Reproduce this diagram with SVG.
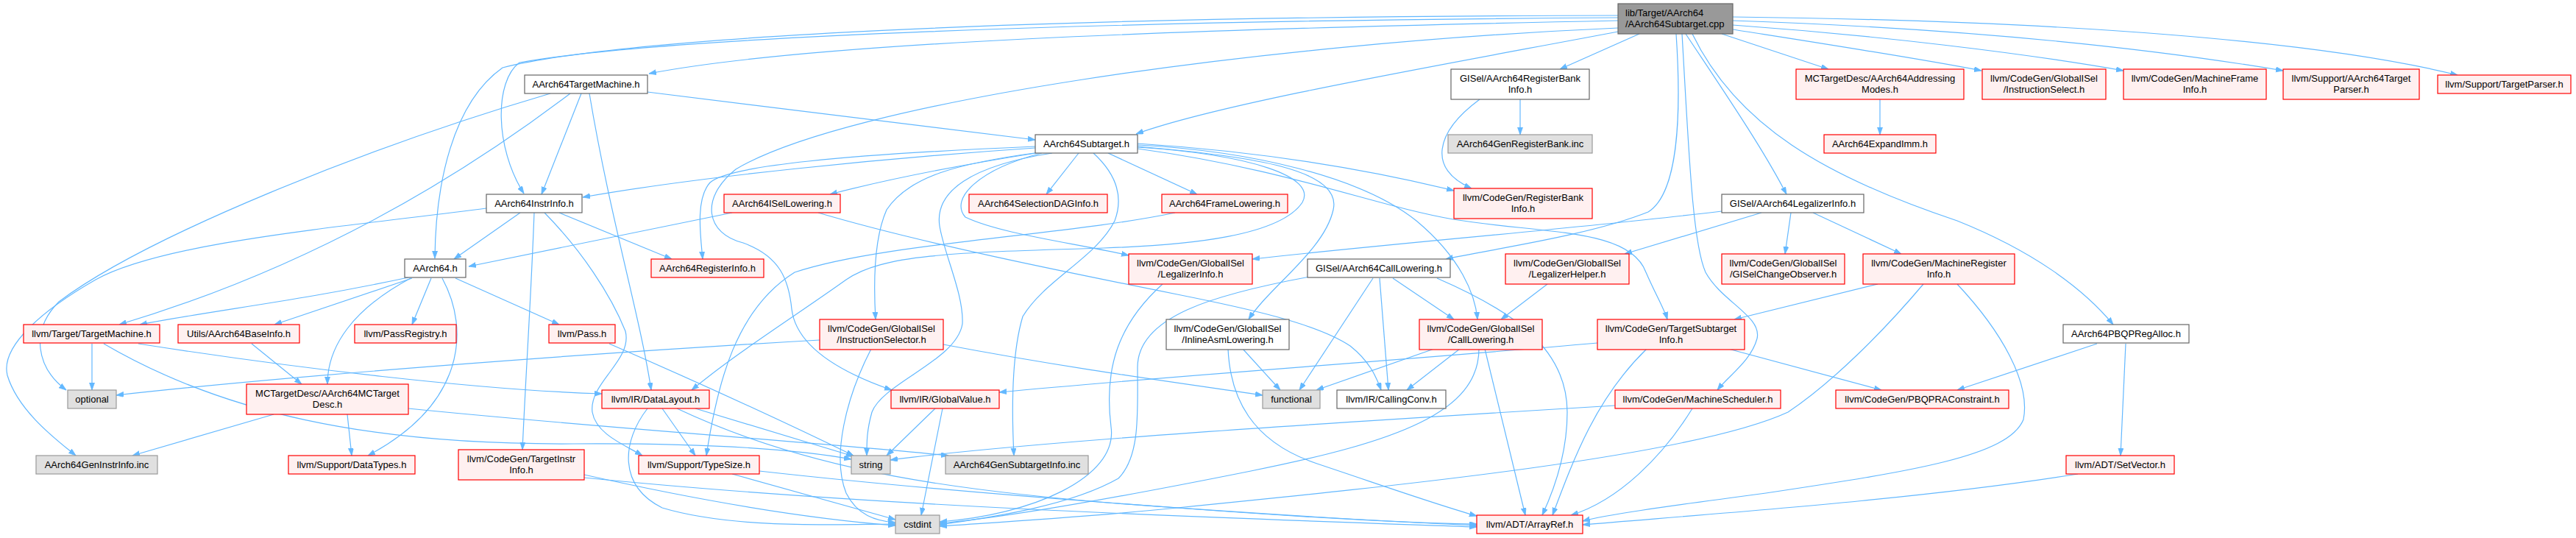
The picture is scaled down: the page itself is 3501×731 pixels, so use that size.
<svg xmlns="http://www.w3.org/2000/svg" width="3501" height="731" viewBox="0 0 3501 731">
<style>
.w{fill:#ffffff;stroke:#666666;stroke-width:1.2}
.r{fill:#FFF0F0;stroke:#FF0000;stroke-width:1.2}
.g{fill:#E0E0E0;stroke:#999999;stroke-width:1.2}
.t{fill:#999999;stroke:#666666;stroke-width:1.2}
text{font-family:"Liberation Sans",Arial,sans-serif;font-size:13px;fill:#000000;text-anchor:middle}
text.l{text-anchor:start}
.e{fill:none;stroke:#63B8FF;stroke-width:1.2;marker-end:url(#ah)}
</style>
<defs>
<marker id="ah" markerUnits="userSpaceOnUse" markerWidth="11" markerHeight="8" refX="10" refY="3.5" orient="auto">
<path d="M0,0 L10,3.5 L0,7 z" fill="#63B8FF" stroke="#63B8FF" stroke-width="0.8"/>
</marker>
</defs>
<rect width="3501" height="731" fill="#ffffff"/>
<g id="edges">
<path class="e" d="M2199,28 C1600,40 1100,58 882,100"/>
<path class="e" d="M2199,43 C1950,90 1660,140 1544,182"/>
<path class="e" d="M2199,24 C1500,28 900,50 706,85 C672,110 672,200 712,263"/>
<path class="e" d="M2199,21 C1400,22 850,50 683,92 C615,140 592,250 591,351"/>
<path class="e" d="M2228,46 L2120,94"/>
<path class="e" d="M2340,46 L2485,94"/>
<path class="e" d="M2355,40 C2450,55 2600,78 2693,96"/>
<path class="e" d="M2355,34 C2550,48 2750,72 2886,96"/>
<path class="e" d="M2355,28 C2650,38 2900,62 3103,96"/>
<path class="e" d="M2355,23 C2800,28 3150,55 3340,102"/>
<path class="e" d="M2291,46 C2340,120 2395,200 2428,264"/>
<path class="e" d="M2278,46 C2285,150 2282,262 2240,288 C2160,320 2030,338 1965,352"/>
<path class="e" d="M2300,46 C2360,170 2480,240 2660,300 C2760,340 2830,390 2872,441"/>
<path class="e" d="M2286,46 C2295,200 2300,330 2318,370 C2340,410 2395,430 2388,460 C2380,490 2350,510 2334,530"/>
<path class="e" d="M2199,38 C1700,60 1150,140 1000,230 C950,270 960,318 1010,330 C1060,348 1072,380 1076,420 C1082,470 1140,505 1212,530"/>
<path class="e" d="M1506,208 L1627,264"/>
<path class="e" d="M1414,207 C1300,225 1200,245 1128,264"/>
<path class="e" d="M1466,208 L1422,264"/>
<path class="e" d="M1407,201 C1200,215 950,240 792,268"/>
<path class="e" d="M1407,199 C1150,210 990,225 965,248 C945,270 952,320 955,352"/>
<path class="e" d="M1546,197 C1700,205 1850,240 1925,300 C1985,350 2005,400 2008,434"/>
<path class="e" d="M1546,199 C1700,212 1825,230 1812,285 C1800,340 1725,390 1697,434"/>
<path class="e" d="M1413,207 C1300,222 1235,240 1205,285 C1185,330 1188,400 1190,434"/>
<path class="e" d="M1416,208 C1330,230 1290,270 1312,295 C1360,318 1460,330 1534,347"/>
<path class="e" d="M1546,195 C1700,205 1850,228 1976,259"/>
<path class="e" d="M1546,202 C1750,230 1870,280 1975,298 C2100,318 2215,310 2237,370 C2250,400 2262,420 2266,434"/>
<path class="e" d="M1546,200 C1700,210 1790,240 1770,275 C1740,320 1620,333 1500,337 C1300,343 1200,345 1150,380 C1080,430 1000,480 940,530"/>
<path class="e" d="M1430,208 C1320,225 1270,260 1277,307 C1283,345 1310,400 1308,440 C1300,490 1200,520 1185,560 C1178,585 1178,600 1178,619"/>
<path class="e" d="M1486,208 C1510,230 1530,260 1515,300 C1490,350 1420,380 1390,430 C1375,480 1375,560 1378,619"/>
<path class="e" d="M995,289 L637,362"/>
<path class="e" d="M1112,289 C1250,330 1450,370 1600,400 C1700,420 1790,440 1835,470 C1860,490 1870,510 1877,530"/>
<path class="e" d="M1597,289 C1450,320 1200,330 1080,370 C1000,420 975,520 960,619"/>
<path class="e" d="M707,289 L617,352"/>
<path class="e" d="M760,289 L913,352"/>
<path class="e" d="M726,289 C722,400 715,500 710,611"/>
<path class="e" d="M740,289 C790,340 830,400 850,450 C860,490 800,520 805,560 C810,590 850,605 873,619"/>
<path class="e" d="M661,283 C450,310 220,330 130,380 C60,420 0,470 10,510 C25,560 80,600 103,619"/>
<path class="e" d="M790,127 L736,264"/>
<path class="e" d="M880,125 L1407,190"/>
<path class="e" d="M775,127 C600,260 400,370 162,441"/>
<path class="e" d="M748,127 C500,200 200,320 80,410 C40,450 50,500 90,530"/>
<path class="e" d="M801,127 C830,300 870,430 885,530"/>
<path class="e" d="M555,377 C400,410 300,420 190,441"/>
<path class="e" d="M560,378 L373,441"/>
<path class="e" d="M558,378 C480,420 445,470 445,522"/>
<path class="e" d="M586,378 L560,441"/>
<path class="e" d="M601,378 C640,450 630,550 500,619"/>
<path class="e" d="M619,378 L760,441"/>
<path class="e" d="M125,467 L125,530"/>
<path class="e" d="M188,467 C400,500 650,530 818,535"/>
<path class="e" d="M141,467 C300,560 500,605 780,603 C950,602 1080,610 1157,624"/>
<path class="e" d="M342,467 L410,522"/>
<path class="e" d="M372,563 L180,619"/>
<path class="e" d="M472,563 L478,619"/>
<path class="e" d="M555,555 C800,580 1100,600 1289,619"/>
<path class="e" d="M828,467 C950,520 1080,580 1160,619"/>
<path class="e" d="M900,555 L945,619"/>
<path class="e" d="M945,555 L1160,620"/>
<path class="e" d="M880,555 C845,600 840,660 900,690 C1000,720 1150,712 1217,712"/>
<path class="e" d="M920,555 C1100,640 1300,670 1600,690 C1800,705 1950,712 2007,712"/>
<path class="e" d="M794,645 C950,680 1100,705 1217,714"/>
<path class="e" d="M794,649 C1200,690 1700,705 2007,716"/>
<path class="e" d="M995,644 L1217,706"/>
<path class="e" d="M1032,640 C1300,670 1700,700 2007,714"/>
<path class="e" d="M1271,555 L1205,619"/>
<path class="e" d="M1281,555 L1252,700"/>
<path class="e" d="M1184,474 C1150,540 1130,620 1150,670 C1165,700 1190,708 1217,710"/>
<path class="e" d="M1282,468 C1450,500 1600,520 1716,537"/>
<path class="e" d="M1114,462 C800,480 400,510 158,537"/>
<path class="e" d="M1689,474 L1740,530"/>
<path class="e" d="M1669,474 C1672,540 1700,600 1790,630 C1880,660 1950,685 2007,701"/>
<path class="e" d="M1949,474 L1789,530"/>
<path class="e" d="M1984,474 L1912,530"/>
<path class="e" d="M2010,474 C2010,560 1900,600 1700,640 C1500,680 1350,705 1277,711"/>
<path class="e" d="M2018,474 L2073,700"/>
<path class="e" d="M1866,378 L1766,530"/>
<path class="e" d="M1875,378 L1887,530"/>
<path class="e" d="M1893,378 L1976,434"/>
<path class="e" d="M1953,378 C2050,420 2130,470 2130,560 C2130,620 2110,670 2096,700"/>
<path class="e" d="M1780,376 C1650,400 1545,430 1546,500 C1546,560 1550,620 1520,650 C1450,690 1330,705 1277,713"/>
<path class="e" d="M1580,386 C1520,440 1500,500 1510,580 C1520,650 1400,700 1277,709"/>
<path class="e" d="M2340,287 C2150,310 1900,330 1702,352"/>
<path class="e" d="M2394,289 L2208,345"/>
<path class="e" d="M2434,289 L2426,345"/>
<path class="e" d="M2464,289 L2584,345"/>
<path class="e" d="M2103,386 L2040,434"/>
<path class="e" d="M2552,386 L2357,434"/>
<path class="e" d="M2614,386 C2560,450 2490,520 2430,560 C2300,620 1900,660 1600,690 C1450,705 1330,711 1277,715"/>
<path class="e" d="M2660,386 C2720,450 2760,520 2750,570 C2730,620 2600,640 2400,670 C2250,690 2180,700 2151,708"/>
<path class="e" d="M2171,466 C1900,490 1600,510 1358,533"/>
<path class="e" d="M2238,474 C2170,540 2140,620 2110,700"/>
<path class="e" d="M2349,474 L2557,530"/>
<path class="e" d="M2195,551 C1800,575 1400,600 1210,625"/>
<path class="e" d="M2300,555 C2260,620 2200,680 2135,700"/>
<path class="e" d="M2850,467 L2660,530"/>
<path class="e" d="M2889,467 L2882,619"/>
<path class="e" d="M2824,644 C2600,680 2300,700 2151,713"/>
<path class="e" d="M2066,135 L2066,183"/>
<path class="e" d="M2011,135 C1950,180 1940,230 2000,256"/>
<path class="e" d="M2555,135 L2555,183"/>
</g>
<g id="n_cpp"><rect class="t" x="2199" y="5" width="156" height="41"/><text class="l" x="2209" y="22">lib/Target/AArch64</text><text class="l" x="2209" y="37">/AArch64Subtarget.cpp</text></g>
<g id="n_tm"><rect class="w" x="713" y="102" width="167" height="25"/><text x="796.5" y="119">AArch64TargetMachine.h</text></g>
<g id="n_sub"><rect class="w" x="1407" y="183" width="139" height="25"/><text x="1476.5" y="200">AArch64Subtarget.h</text></g>
<g id="n_rbi"><rect class="w" x="1972" y="94" width="188" height="41"/><text x="2066" y="111">GISel/AArch64RegisterBank</text><text x="2066" y="126">Info.h</text></g>
<g id="n_am"><rect class="r" x="2441" y="94" width="228" height="41"/><text x="2555" y="111">MCTargetDesc/AArch64Addressing</text><text x="2555" y="126">Modes.h</text></g>
<g id="n_isel"><rect class="r" x="2694" y="94" width="168" height="41"/><text x="2778" y="111">llvm/CodeGen/GlobalISel</text><text x="2778" y="126">/InstructionSelect.h</text></g>
<g id="n_mfi"><rect class="r" x="2886" y="94" width="194" height="41"/><text x="2983" y="111">llvm/CodeGen/MachineFrame</text><text x="2983" y="126">Info.h</text></g>
<g id="n_tp64"><rect class="r" x="3103" y="94" width="185" height="41"/><text x="3195.5" y="111">llvm/Support/AArch64Target</text><text x="3195.5" y="126">Parser.h</text></g>
<g id="n_tp"><rect class="r" x="3313" y="102" width="181" height="25"/><text x="3403.5" y="119">llvm/Support/TargetParser.h</text></g>
<g id="n_genrb"><rect class="g" x="1968" y="183" width="196" height="25"/><text x="2066" y="200">AArch64GenRegisterBank.inc</text></g>
<g id="n_expimm"><rect class="r" x="2479" y="183" width="152" height="25"/><text x="2555" y="200">AArch64ExpandImm.h</text></g>
<g id="n_ii"><rect class="w" x="661" y="264" width="130" height="25"/><text x="726" y="281">AArch64InstrInfo.h</text></g>
<g id="n_isl"><rect class="r" x="984" y="264" width="158" height="25"/><text x="1063" y="281">AArch64ISelLowering.h</text></g>
<g id="n_sdag"><rect class="r" x="1317" y="264" width="188" height="25"/><text x="1411" y="281">AArch64SelectionDAGInfo.h</text></g>
<g id="n_fl"><rect class="r" x="1579" y="264" width="171" height="25"/><text x="1664.5" y="281">AArch64FrameLowering.h</text></g>
<g id="n_crbi"><rect class="r" x="1976" y="256" width="188" height="41"/><text x="2070" y="273">llvm/CodeGen/RegisterBank</text><text x="2070" y="288">Info.h</text></g>
<g id="n_ali"><rect class="w" x="2340" y="264" width="193" height="25"/><text x="2436.5" y="281">GISel/AArch64LegalizerInfo.h</text></g>
<g id="n_a64"><rect class="w" x="550" y="352" width="83" height="25"/><text x="591.5" y="369">AArch64.h</text></g>
<g id="n_ri"><rect class="r" x="885" y="352" width="153" height="25"/><text x="961.5" y="369">AArch64RegisterInfo.h</text></g>
<g id="n_li"><rect class="r" x="1534" y="345" width="168" height="41"/><text x="1618" y="362">llvm/CodeGen/GlobalISel</text><text x="1618" y="377">/LegalizerInfo.h</text></g>
<g id="n_acl"><rect class="w" x="1777" y="352" width="194" height="25"/><text x="1874" y="369">GISel/AArch64CallLowering.h</text></g>
<g id="n_lh"><rect class="r" x="2046" y="345" width="168" height="41"/><text x="2130" y="362">llvm/CodeGen/GlobalISel</text><text x="2130" y="377">/LegalizerHelper.h</text></g>
<g id="n_gco"><rect class="r" x="2340" y="345" width="167" height="41"/><text x="2423.5" y="362">llvm/CodeGen/GlobalISel</text><text x="2423.5" y="377">/GISelChangeObserver.h</text></g>
<g id="n_mri"><rect class="r" x="2532" y="345" width="206" height="41"/><text x="2635" y="362">llvm/CodeGen/MachineRegister</text><text x="2635" y="377">Info.h</text></g>
<g id="n_ttm"><rect class="r" x="32" y="441" width="185" height="25"/><text x="124.5" y="458">llvm/Target/TargetMachine.h</text></g>
<g id="n_bi"><rect class="r" x="242" y="441" width="165" height="25"/><text x="324.5" y="458">Utils/AArch64BaseInfo.h</text></g>
<g id="n_pr"><rect class="r" x="482" y="441" width="138" height="25"/><text x="551" y="458">llvm/PassRegistry.h</text></g>
<g id="n_pass"><rect class="r" x="746" y="441" width="90" height="25"/><text x="791" y="458">llvm/Pass.h</text></g>
<g id="n_isr"><rect class="r" x="1114" y="434" width="168" height="41"/><text x="1198" y="451">llvm/CodeGen/GlobalISel</text><text x="1198" y="466">/InstructionSelector.h</text></g>
<g id="n_ial"><rect class="w" x="1585" y="434" width="167" height="41"/><text x="1668.5" y="451">llvm/CodeGen/GlobalISel</text><text x="1668.5" y="466">/InlineAsmLowering.h</text></g>
<g id="n_cl"><rect class="r" x="1929" y="434" width="167" height="41"/><text x="2012.5" y="451">llvm/CodeGen/GlobalISel</text><text x="2012.5" y="466">/CallLowering.h</text></g>
<g id="n_tsi"><rect class="r" x="2171" y="434" width="200" height="41"/><text x="2271" y="451">llvm/CodeGen/TargetSubtarget</text><text x="2271" y="466">Info.h</text></g>
<g id="n_pbqp"><rect class="w" x="2804" y="441" width="171" height="25"/><text x="2889.5" y="458">AArch64PBQPRegAlloc.h</text></g>
<g id="n_opt"><rect class="g" x="92" y="530" width="66" height="25"/><text x="125" y="547">optional</text></g>
<g id="n_mcd"><rect class="r" x="335" y="522" width="220" height="41"/><text x="445" y="539">MCTargetDesc/AArch64MCTarget</text><text x="445" y="554">Desc.h</text></g>
<g id="n_dl"><rect class="r" x="818" y="530" width="146" height="25"/><text x="891" y="547">llvm/IR/DataLayout.h</text></g>
<g id="n_gv"><rect class="r" x="1211" y="530" width="147" height="25"/><text x="1284.5" y="547">llvm/IR/GlobalValue.h</text></g>
<g id="n_func"><rect class="g" x="1716" y="530" width="78" height="25"/><text x="1755" y="547">functional</text></g>
<g id="n_cc"><rect class="w" x="1817" y="530" width="148" height="25"/><text x="1891" y="547">llvm/IR/CallingConv.h</text></g>
<g id="n_ms"><rect class="r" x="2195" y="530" width="225" height="25"/><text x="2307.5" y="547">llvm/CodeGen/MachineScheduler.h</text></g>
<g id="n_pbc"><rect class="r" x="2495" y="530" width="235" height="25"/><text x="2612.5" y="547">llvm/CodeGen/PBQPRAConstraint.h</text></g>
<g id="n_gii"><rect class="g" x="49" y="619" width="165" height="25"/><text x="131.5" y="636">AArch64GenInstrInfo.inc</text></g>
<g id="n_dt"><rect class="r" x="392" y="619" width="172" height="25"/><text x="478" y="636">llvm/Support/DataTypes.h</text></g>
<g id="n_tii"><rect class="r" x="623" y="611" width="171" height="41"/><text x="708.5" y="628">llvm/CodeGen/TargetInstr</text><text x="708.5" y="643">Info.h</text></g>
<g id="n_ts"><rect class="r" x="868" y="619" width="164" height="25"/><text x="950" y="636">llvm/Support/TypeSize.h</text></g>
<g id="n_str"><rect class="g" x="1157" y="619" width="53" height="25"/><text x="1183.5" y="636">string</text></g>
<g id="n_gsi"><rect class="g" x="1285" y="619" width="194" height="25"/><text x="1382" y="636">AArch64GenSubtargetInfo.inc</text></g>
<g id="n_sv"><rect class="r" x="2808" y="619" width="147" height="25"/><text x="2881.5" y="636">llvm/ADT/SetVector.h</text></g>
<g id="n_ci"><rect class="g" x="1217" y="700" width="60" height="25"/><text x="1247" y="717">cstdint</text></g>
<g id="n_ar"><rect class="r" x="2007" y="700" width="144" height="25"/><text x="2079" y="717">llvm/ADT/ArrayRef.h</text></g>
</svg>
